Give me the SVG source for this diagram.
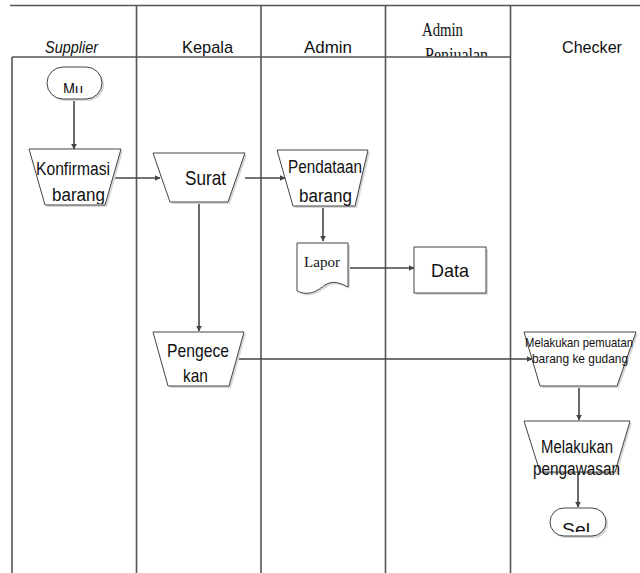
<svg xmlns="http://www.w3.org/2000/svg" width="640" height="573" viewBox="0 0 640 573">
<style>
.lane{stroke:#555;stroke-width:1.6;fill:none}
.shape{fill:#fff;stroke:#444;stroke-width:1}
.shadow{fill:#d8d8d8;stroke:none}
.conn{stroke:#444;stroke-width:1.6;fill:none;marker-end:url(#arr)}
.sans{font-family:"Liberation Sans",Arial,sans-serif;fill:#111}
.serif{font-family:"Liberation Serif","Times New Roman",serif;fill:#111}
</style>
<defs>
<marker id="arr" viewBox="0 0 10 10" refX="9" refY="5" markerWidth="6" markerHeight="6" orient="auto" markerUnits="userSpaceOnUse">
<path d="M0,0 L10,5 L0,10 z" fill="#444"/>
</marker>
<clipPath id="cpHead"><rect x="380" y="0" width="140" height="56.5"/></clipPath>
<clipPath id="cpMu"><rect x="47" y="67" width="55" height="26"/></clipPath>
<clipPath id="cpSel"><rect x="550" y="508" width="56" height="24"/></clipPath>
<clipPath id="cpKonf"><rect x="20" y="149" width="110" height="55"/></clipPath>
</defs>
<rect width="640" height="573" fill="#fff"/>
<g id="lanes">
<line class="lane" x1="10" y1="5.5" x2="640" y2="5.5"/>
<line class="lane" x1="12" y1="57" x2="510" y2="57"/>
<line class="lane" x1="12" y1="57" x2="12" y2="573"/>
<line class="lane" x1="136.5" y1="5" x2="136.5" y2="573"/>
<line class="lane" x1="261" y1="5" x2="261" y2="573" stroke="#666"/>
<line class="lane" x1="385.5" y1="5" x2="385.5" y2="573"/>
<line class="lane" x1="510.5" y1="5" x2="510.5" y2="573"/>
<text class="sans" x="71.5" y="53" font-size="17" font-style="italic" text-anchor="middle" textLength="53" lengthAdjust="spacingAndGlyphs">Supplier</text>
<text class="sans" x="207.5" y="53" font-size="17" text-anchor="middle" textLength="51" lengthAdjust="spacingAndGlyphs">Kepala</text>
<text class="sans" x="328" y="53" font-size="17" text-anchor="middle" textLength="48" lengthAdjust="spacingAndGlyphs">Admin</text>
<text class="serif" x="442.5" y="36" font-size="19" text-anchor="middle" textLength="41" lengthAdjust="spacingAndGlyphs">Admin</text>
<text class="serif" x="456.5" y="61" font-size="19" text-anchor="middle" textLength="63" lengthAdjust="spacingAndGlyphs" clip-path="url(#cpHead)">Penjualan</text>
<text class="sans" x="592" y="53" font-size="17" text-anchor="middle" textLength="60" lengthAdjust="spacingAndGlyphs">Checker</text>
</g>
<g id="connectors">
<line class="conn" x1="74" y1="99" x2="74" y2="149"/>
<line class="conn" x1="113" y1="178" x2="160" y2="178"/>
<line class="conn" x1="245" y1="178" x2="285" y2="178"/>
<line class="conn" x1="199" y1="202" x2="199" y2="331"/>
<line class="conn" x1="323" y1="206" x2="323" y2="241"/>
<line class="conn" x1="348" y1="268" x2="414" y2="268"/>
<line class="conn" x1="237" y1="359" x2="532" y2="359"/>
<line class="conn" x1="579" y1="386" x2="579" y2="420"/>
<line class="conn" x1="578" y1="472" x2="578" y2="507"/>
</g>
<g id="mulai">
<rect class="shadow" x="49" y="69" width="55" height="32" rx="16"/>
<rect class="shape" x="47" y="67" width="55" height="32" rx="16"/>
<text class="sans" x="73" y="96" font-size="18" text-anchor="middle" textLength="20" lengthAdjust="spacingAndGlyphs" clip-path="url(#cpMu)">Mu</text>
</g>
<g id="konfirmasi">
<polygon class="shadow" points="31,151 123,151 107,207 47,207"/>
<polygon class="shape" points="29,149 121,149 105,205 45,205"/>
<text class="sans" x="73" y="175" font-size="18" text-anchor="middle" textLength="74" lengthAdjust="spacingAndGlyphs">Konfirmasi</text>
<text class="sans" x="78.5" y="201" font-size="18" text-anchor="middle" textLength="53" lengthAdjust="spacingAndGlyphs" clip-path="url(#cpKonf)">barang</text>
</g>
<g id="surat">
<polygon class="shadow" points="155,155 247,155 230,204 172,204"/>
<polygon class="shape" points="153,153 245,153 228,202 170,202"/>
<text class="sans" x="205.5" y="185" font-size="21" text-anchor="middle" textLength="41" lengthAdjust="spacingAndGlyphs">Surat</text>
</g>
<g id="pendataan">
<polygon class="shadow" points="279,152 370,152 357,208 295,208"/>
<polygon class="shape" points="277,150 368,150 355,206 293,206"/>
<text class="sans" x="325" y="173" font-size="18" text-anchor="middle" textLength="74" lengthAdjust="spacingAndGlyphs">Pendataan</text>
<text class="sans" x="325.5" y="202" font-size="18" text-anchor="middle" textLength="53" lengthAdjust="spacingAndGlyphs">barang</text>
</g>
<g id="lapor">
<path class="shadow" d="M299,245 H350 V289 C342,285 335,282 327,287 C320,292 312,299 299,293 Z"/>
<path class="shape" d="M297,243 H348 V287 C340,283 333,280 325,285 C318,290 310,297 297,291 Z"/>
<text class="serif" x="304" y="267" font-size="15" textLength="36" lengthAdjust="spacingAndGlyphs">Lapor</text>
</g>
<g id="data">
<rect class="shadow" x="416" y="249" width="72" height="46"/>
<rect class="shape" x="414" y="247" width="72" height="46"/>
<text class="sans" x="450" y="277" font-size="19" text-anchor="middle" textLength="38" lengthAdjust="spacingAndGlyphs">Data</text>
</g>
<g id="pengecekan">
<polygon class="shadow" points="155,334 246,334 231,388 170,388"/>
<polygon class="shape" points="153,332 244,332 229,386 168,386"/>
<text class="sans" x="198" y="357" font-size="19" text-anchor="middle" textLength="62" lengthAdjust="spacingAndGlyphs">Pengece</text>
<text class="sans" x="195.5" y="382" font-size="19" text-anchor="middle" textLength="25" lengthAdjust="spacingAndGlyphs">kan</text>
</g>
<g id="pemuatan">
<polygon class="shadow" points="526,334 638,334 619,388 542,388"/>
<polygon class="shape" points="524,332 636,332 617,386 540,386"/>
<text class="sans" x="579" y="347" font-size="13" text-anchor="middle" textLength="108" lengthAdjust="spacingAndGlyphs">Melakukan pemuatan</text>
<text class="sans" x="580" y="363" font-size="13" text-anchor="middle" textLength="96" lengthAdjust="spacingAndGlyphs">barang ke gudang</text>
</g>
<g id="pengawasan">
<polygon class="shadow" points="526,423 632,423 617,474 542,474"/>
<polygon class="shape" points="524,421 630,421 615,472 540,472"/>
<text class="sans" x="577" y="453" font-size="18" text-anchor="middle" textLength="72" lengthAdjust="spacingAndGlyphs">Melakukan</text>
<text class="sans" x="576.5" y="475" font-size="18" text-anchor="middle" textLength="87" lengthAdjust="spacingAndGlyphs">pengawasan</text>
</g>
<g id="selesai">
<rect class="shadow" x="552" y="510" width="56" height="28" rx="14"/>
<rect class="shape" x="550" y="508" width="56" height="28" rx="14"/>
<text class="sans" x="576" y="536" font-size="18" text-anchor="middle" textLength="28" lengthAdjust="spacingAndGlyphs" clip-path="url(#cpSel)">Sel</text>
</g>
</svg>
